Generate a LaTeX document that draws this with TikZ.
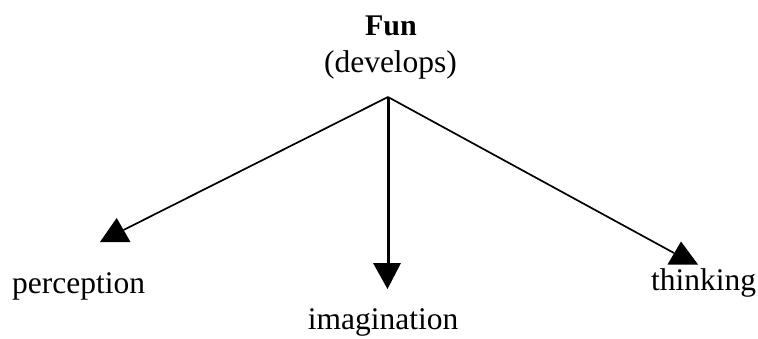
\documentclass[tikz,border=0pt]{standalone}
\usepackage{fontspec}
\setmainfont{Liberation Serif}
\begin{document}
\begin{tikzpicture}[x=1pt,y=-1pt,
  lbl/.style={inner sep=0pt,font=\fontsize{31.5}{38}\selectfont},
  conn/.style={line width=1.7pt,black},
  head/.style={fill=black,draw=none}]
\useasboundingbox (0,0) rectangle (758,338);
\node[lbl,anchor=base,font=\fontsize{30}{36}\selectfont\bfseries] (fun) at (391,35) {Fun};
\node[lbl,anchor=base] (dev) at (390.5,72) {(develops)};
\node[lbl,anchor=base west] (perc) at (12,293) {perception};
\node[lbl,anchor=base] (imag) at (383,329) {imagination};
\node[lbl,anchor=base west] (think) at (651,290) {thinking};
\coordinate (hub) at (388,97);
\coordinate (lend) at (123.5,230);
\coordinate (mend) at (388,264);
\coordinate (rend) at (674,253);
\draw[conn] (hub) -- (lend);
\draw[conn,line width=3pt] (hub) -- (mend);
\draw[conn] (hub) -- (rend);
\fill[head] (116.7,218) -- (130.5,242) -- (100,242) -- cycle;
\fill[head] (373,263) -- (401,263) -- (387.5,289) -- cycle;
\fill[head] (681,241.5) -- (698,264.5) -- (667.5,264.5) -- cycle;
\end{tikzpicture}
\end{document}
